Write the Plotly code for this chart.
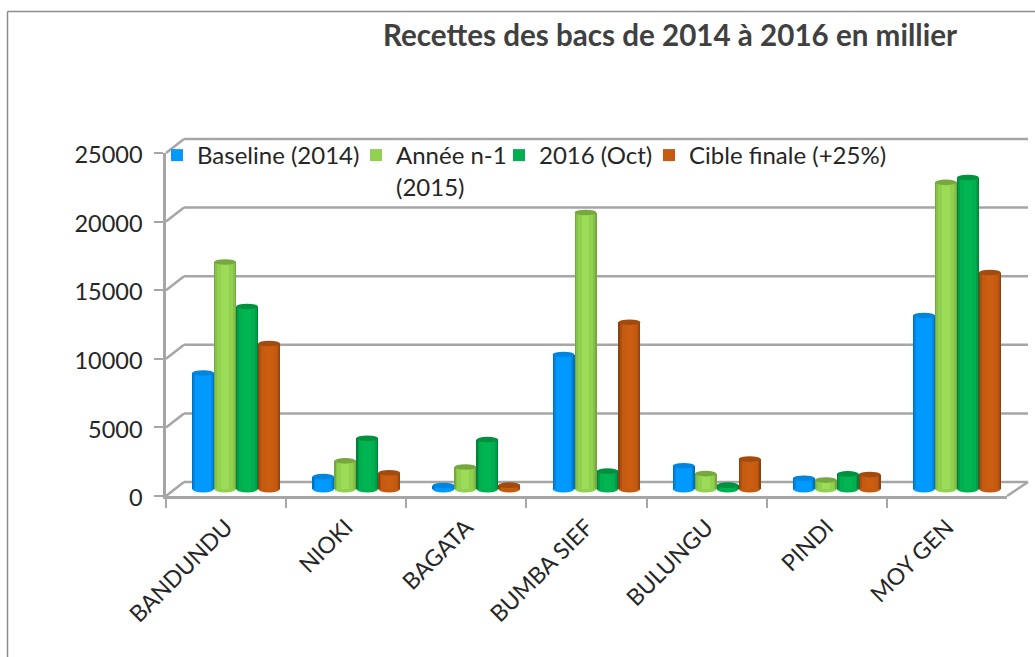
import plotly.graph_objects as go

TITLE = "Recettes des bacs de 2014 à 2016 en millier"
categories = ["BANDUNDU", "NIOKI", "BAGATA", "BUMBA SIEF", "BULUNGU", "PINDI", "MOY GEN"]
baseline_2014 = [8450, 900, 250, 9800, 1700, 780, 12650]
annee_2015 = [16550, 2050, 1600, 20150, 1120, 650, 22350]
oct_2016 = [13300, 3700, 3600, 1300, 280, 1100, 22700]
cible_finale = [10600, 1180, 280, 12150, 2180, 1050, 15780]
series_names = ["Baseline (2014)", "Année n-1<br>(2015)", "2016 (Oct)", "Cible finale (+25%)"]
series_values = [baseline_2014, annee_2015, oct_2016, cible_finale]
main_colors = ["#0099FF", "#92D050", "#00B050", "#C55A11"]
mid_colors = ["#0086E0", "#86C24A", "#009C48", "#AE4F0F"]
edge_colors = ["#0070C0", "#76A83F", "#00813B", "#8F420C"]
light_colors = ["#0099FF", "#9CDC58", "#00B552", "#CC5E12"]
cap_colors = ["#0085DE", "#76A83F", "#00913F", "#A34A0E"]
y_ticks = [0, 5000, 10000, 15000, 20000, 25000]
legend_x_px = [157, 356, 499, 649]

W, H = 1035, 657
BAR_W = 0.183
GRID = "#A6A6A6"
TEXT = "#262626"
FONT = "Lato, Carlito, 'Open Sans', sans-serif"
Y_MAX = 25000
FRONT_Y0, FRONT_Y1 = 496, 153
PX_PER_UNIT = (FRONT_Y0 - FRONT_Y1) / Y_MAX
FOOT = 500  # room below zero on the bar axis so the rounded feet are not clipped


def px(x):
    return x / W


def py(y):
    return 1 - y / H


def front_y(v):
    return FRONT_Y0 - v * PX_PER_UNIT


fig = go.Figure()
# invisible carrier so that the front axes (ticks and labels) are drawn
fig.add_scatter(x=categories, y=baseline_2014, mode="none", showlegend=False, xaxis="x", yaxis="y", hoverinfo="skip")
for s, (name, vals) in enumerate(zip(series_names, series_values)):
    off = (s - 2) * BAR_W
    layers = [
        (1.0, main_colors[s], True),
        (1.0, edge_colors[s], False),
        (0.88, mid_colors[s], False),
        (0.72, main_colors[s], False),
        (0.36, light_colors[s], False),
    ]
    for frac, color, in_legend in layers:
        w = BAR_W * frac
        fig.add_bar(
            x=categories, y=vals, name=name, showlegend=in_legend,
            legend="legend" if s == 0 else f"legend{s + 1}",
            xaxis="x2", yaxis="y2", width=w, offset=off + (BAR_W - w) / 2,
            marker=dict(color=color, line_width=0),
        )

line = dict(color=GRID, width=2.5)
shapes = []
# back wall gridlines, diagonal links, floor edge
for t in y_ticks:
    y = front_y(t)
    shapes.append(dict(type="line", layer="below", xref="paper", yref="paper", x0=px(184), x1=px(1028),
                       y0=py(y - 14), y1=py(y - 14), line=line))
    shapes.append(dict(type="line", layer="below", xref="paper", yref="paper", x0=px(166), x1=px(184),
                       y0=py(y), y1=py(y - 14), line=line))
shapes.append(dict(type="line", layer="below", xref="paper", yref="paper", x0=px(1007), x1=px(1028),
                   y0=py(front_y(0)), y1=py(front_y(0) - 14), line=line))
# chart frame (top and left only)
frame = dict(color="#8C8C8C", width=1.5)
shapes.append(dict(type="line", xref="paper", yref="paper", x0=px(7.5), x1=px(7.5), y0=py(11.5), y1=py(657), line=frame))
shapes.append(dict(type="line", xref="paper", yref="paper", x0=px(7.5), x1=px(1035), y0=py(11.5), y1=py(11.5), line=frame))
# rounded foot and elliptical cap of each cylinder
for s, vals in enumerate(series_values):
    for i, v in enumerate(vals):
        x0 = i + (s - 2) * BAR_W
        x1 = x0 + BAR_W
        shapes.append(dict(type="circle", layer="below", xref="x2", yref="y2", xsizemode="scaled",
                           ysizemode="pixel", yanchor=0, x0=x0, x1=x1, y0=-3.5, y1=3.5,
                           fillcolor=main_colors[s], line_width=0))
        shapes.append(dict(type="circle", layer="above", xref="x2", yref="y2", xsizemode="scaled",
                           ysizemode="pixel", yanchor=v, x0=x0, x1=x1, y0=-2.8, y1=2.8,
                           fillcolor=cap_colors[s], line_width=0))


def legend_at(x_px):
    return dict(orientation="v", x=px(x_px), xanchor="left", y=py(133), yanchor="top", valign="top",
                bgcolor="rgba(0,0,0,0)", font=dict(size=24, color=TEXT, family=FONT),
                itemclick=False, itemdoubleclick=False)


fig.update_layout(
    width=W, height=H, margin=dict(l=0, r=0, t=0, b=0, autoexpand=False),
    paper_bgcolor="white", plot_bgcolor="rgba(0,0,0,0)",
    barmode="overlay", shapes=shapes, bargap=0,
    font=dict(family=FONT, color=TEXT, size=21),
    title=dict(text=f"<b>{TITLE}</b>", x=px(670), xanchor="center", y=py(36), yanchor="middle",
               font=dict(size=29.6, color="#404040", family=FONT)),
    legend=legend_at(legend_x_px[0]),
    legend2=legend_at(legend_x_px[1]),
    legend3=legend_at(legend_x_px[2]),
    legend4=legend_at(legend_x_px[3]),
    xaxis=dict(domain=[px(166), px(1007)], anchor="y", type="category", categoryorder="array",
               categoryarray=categories, range=[-0.5, 6.5], tickson="boundaries", ticks="outside",
               ticklen=9, tickwidth=1.5, tickcolor=GRID, tickangle=-45, showline=True,
               linecolor=GRID, linewidth=2.5, showgrid=False, tickfont=dict(size=23, color=TEXT),
               tickmode="array", tickvals=categories, ticktext=categories, ticklabelstandoff=6),
    yaxis=dict(domain=[py(FRONT_Y0), py(FRONT_Y1)], anchor="x", range=[0, Y_MAX], tickvals=y_ticks,
               ticks="outside", ticklen=9, tickwidth=1.5, tickcolor=GRID, showline=True,
               linecolor=GRID, linewidth=2.5, showgrid=False, zeroline=False,
               tickformat="d", ticklabelstandoff=7, ticklabelshift=2, tickfont=dict(size=23.5, color=TEXT)),
    xaxis2=dict(domain=[px(176), px(1017)], anchor="y2", type="category", categoryorder="array",
                categoryarray=categories, range=[-0.5, 6.5], visible=False),
    yaxis2=dict(domain=[py(489 + FOOT * PX_PER_UNIT), py(146)], anchor="x2", range=[-FOOT, Y_MAX], visible=False),
)
fig.write_html("out.html", config=dict(displayModeBar=False),
               post_script="document.body.style.margin='0';document.body.style.overflow='hidden';")
